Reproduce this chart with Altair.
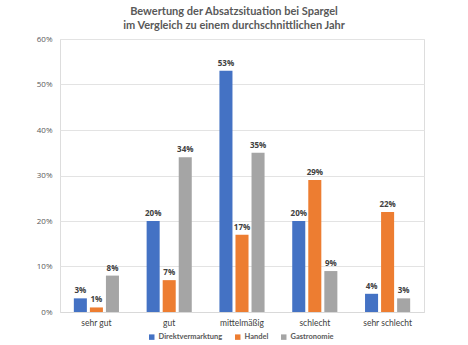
import altair as alt
import pandas as pd

categories = ["sehr gut", "gut", "mittelmäßig", "schlecht", "sehr schlecht"]
series = ["Direktvermarktung", "Handel", "Gastronomie"]
direkt = [3, 20, 53, 20, 4]
handel = [1, 7, 17, 29, 22]
gastro = [8, 34, 35, 9, 3]
colors = ["#4472C4", "#ED7D31", "#A5A5A5"]

rows = []
for s, vals in zip(series, [direkt, handel, gastro]):
    for c, v in zip(categories, vals):
        rows.append({"Kategorie": c, "Gruppe": s, "Wert": v / 100.0, "Label": f"{v}%"})
df = pd.DataFrame(rows)

font = "Open Sans"
font2 = "Lato"

base = alt.Chart(df).encode(
    x=alt.X("Kategorie:N", sort=categories,
            scale=alt.Scale(paddingInner=0.38, paddingOuter=0.19),
            axis=alt.Axis(title=None, labelAngle=0, ticks=False, domainColor="#d9d9d9",
                          labelColor="#404040", labelFontSize=8.5, labelPadding=6,
                          labelFont=font2)),
    xOffset=alt.XOffset("Gruppe:N", sort=series,
                        scale=alt.Scale(paddingInner=0.1875, paddingOuter=0)),
    y=alt.Y("Wert:Q", scale=alt.Scale(domain=[0, 0.6]),
            axis=alt.Axis(title=None, format=".0%", values=[0, 0.1, 0.2, 0.3, 0.4, 0.5, 0.6],
                          domain=False, ticks=False, gridColor="#e3e3e3",
                          labelColor="#595959", labelFontSize=8, labelPadding=8,
                          labelFont=font)),
)

bars = base.mark_bar().encode(
    color=alt.Color("Gruppe:N", sort=series,
                    scale=alt.Scale(domain=series, range=colors),
                    legend=alt.Legend(title=None, orient="none", direction="horizontal",
                                      legendX=88, legendY=294, symbolType="square",
                                      symbolSize=30, symbolStrokeWidth=0,
                                      labelFontSize=7.5, labelColor="#595959",
                                      labelFontWeight="bold", labelFont=font2,
                                      columnPadding=11, labelOffset=3))
)

labels = base.mark_text(dy=-7, fontSize=8, fontWeight="bold", color="#404040", font=font).encode(
    text="Label:N"
)

chart = (bars + labels).properties(
    width=364, height=273,
    title=alt.TitleParams(
        ["Bewertung der Absatzsituation bei Spargel", "im Vergleich zu einem durchschnittlichen Jahr"],
        fontSize=11, font=font2, color="#595959", fontWeight="bold", anchor="middle",
        dx=-8, offset=4, lineHeight=14),
    autosize=alt.AutoSizeParams(type="none"),
    padding={"left": 60, "top": 39, "right": 44, "bottom": 33},
).configure_view(stroke=None).configure(background="white")

chart.save("out.html", embed_options={"renderer": "svg", "actions": False})
